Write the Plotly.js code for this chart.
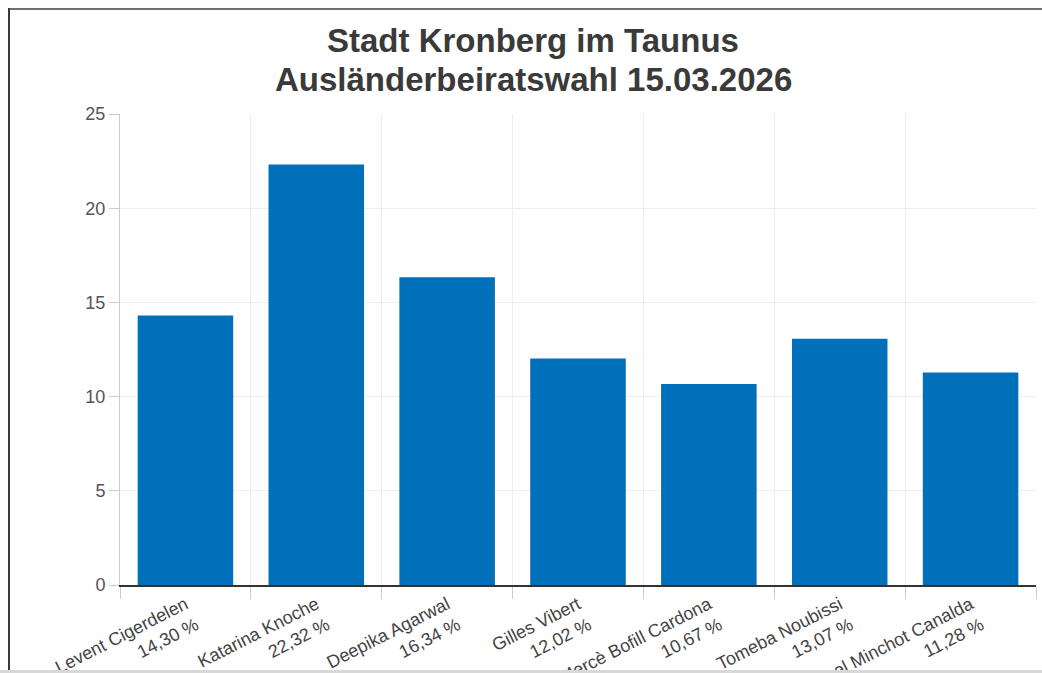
<!DOCTYPE html>
<html>
<head>
<meta charset="utf-8">
<script src="https://cdn.plot.ly/plotly-3.0.1.min.js"></script>
<style>
  html, body { margin: 0; padding: 0; width: 1042px; height: 673px; overflow: hidden; background: #fff; }
  #chart { position: absolute; left: 0; top: 0; width: 1100px; height: 760px; }
  #frameTop { position: absolute; left: 8px; top: 8px; width: 1100px; height: 2px; background: #6f6f6f; }
  #frameLeft { position: absolute; left: 8px; top: 8px; width: 2px; height: 700px; background: #3a3a3a; }
  #bottomLine { position: absolute; left: 0; top: 670px; width: 1042px; height: 3px; background: #d8d8d8; }
</style>
</head>
<body>
<div id="chart"></div>
<div id="frameTop"></div>
<div id="frameLeft"></div>
<div id="bottomLine"></div>
<script>
const candidates = ["Levent Cigerdelen", "Katarina Knoche", "Deepika Agarwal", "Gilles Vibert", "Mercè Bofill Cardona", "Tomeba Noubissi", "Manel Minchot Canalda"];
const shares = [14.30, 22.32, 16.34, 12.02, 10.67, 13.07, 11.28];
const titleLines = ["Stadt Kronberg im Taunus", "Ausländerbeiratswahl 15.03.2026"];
const yTicks = [0, 5, 10, 15, 20, 25];

const labels = candidates.map((n, i) => n + "<br>" + shares[i].toFixed(2).replace(".", ",") + " %");

const trace = {
  type: "bar",
  x: labels,
  y: shares,
  marker: { color: "#0070bb", line: { width: 0 } },
  hoverinfo: "x+y"
};

const titleFont = { family: "Liberation Sans, Arial, sans-serif", size: 33, color: "#3a3a3a", weight: 700 };
const titleY = [1.155, 1.074];
const annotations = titleLines.map((t, i) => ({
  text: "<b>" + t + "</b>",
  xref: "paper",
  yref: "paper",
  x: (533 - 120) / 916,
  y: titleY[i],
  xanchor: "center",
  yanchor: "middle",
  showarrow: false,
  font: titleFont
}));

const layout = {
  width: 1100,
  height: 760,
  margin: { l: 120, r: 64, t: 114, b: 175 },
  paper_bgcolor: "#ffffff",
  plot_bgcolor: "#ffffff",
  bargap: 0.27,
  showlegend: false,
  font: { family: "Liberation Sans, Arial, sans-serif", color: "#444" },
  annotations: annotations,
  xaxis: {
    type: "category",
    tickson: "boundaries",
    showgrid: true,
    gridcolor: "#eeeeee",
    gridwidth: 1,
    ticks: "outside",
    ticklen: 12,
    tickcolor: "#cccccc",
    showline: true,
    linecolor: "#333333",
    linewidth: 2,
    tickangle: -27,
    tickfont: { size: 18, color: "#444" },
    automargin: false,
    fixedrange: true
  },
  yaxis: {
    range: [0, 25],
    tickvals: yTicks,
    showgrid: true,
    gridcolor: "#eeeeee",
    gridwidth: 1,
    zeroline: false,
    ticks: "outside",
    ticklen: 10,
    tickcolor: "#cccccc",
    showline: true,
    linecolor: "#cccccc",
    linewidth: 1,
    tickfont: { size: 18, color: "#555" },
    automargin: false,
    fixedrange: true
  }
};

Plotly.newPlot("chart", [trace], layout, { displayModeBar: false, staticPlot: true });
</script>
</body>
</html>
